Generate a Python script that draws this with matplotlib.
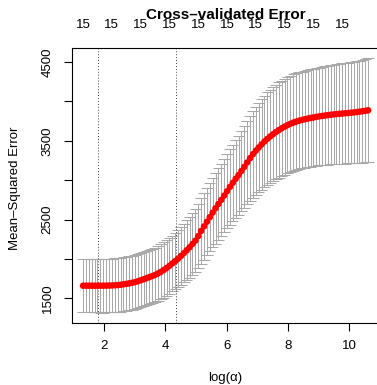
import numpy as np
import matplotlib
matplotlib.use("Agg")
import matplotlib.pyplot as plt
from matplotlib.transforms import blended_transform_factory

plt.rcParams['font.family'] = ['Liberation Sans', 'DejaVu Sans']

# log(lambda) grid (glmnet uses an evenly spaced log-lambda path of 100 values)
log_lambda = np.linspace(1.33, 10.607, 100)

cv_mean = [
    1660, 1660, 1660, 1660, 1660, 1660, 1660, 1660, 1661, 1662,
    1663, 1665, 1668, 1672, 1677, 1683, 1690, 1697, 1705, 1716,
    1729, 1742, 1755, 1769, 1782, 1797, 1815, 1835, 1860, 1885,
    1912, 1943, 1972, 2003, 2038, 2073, 2110, 2148, 2190, 2232,
    2290, 2355, 2413, 2472, 2530, 2588, 2643, 2697, 2750, 2805,
    2860, 2915, 2967, 3018, 3065, 3117, 3170, 3225, 3280, 3330,
    3375, 3415, 3455, 3492, 3525, 3556, 3585, 3612, 3637, 3660,
    3680, 3699, 3716, 3731, 3744, 3755, 3765, 3774, 3782, 3790,
    3797, 3804, 3810, 3816, 3821, 3826, 3831, 3835, 3839, 3843,
    3846, 3850, 3853, 3857, 3861, 3865, 3870, 3875, 3881, 3888,
]

cv_sd = [
    340, 340, 340, 340, 340, 340, 341, 341, 341, 342,
    342, 342, 343, 343, 343, 344, 344, 344, 345, 345,
    345, 346, 346, 347, 347, 348, 349, 350, 351, 352,
    353, 354, 356, 360, 366, 372, 378, 385, 392, 399,
    406, 414, 421, 428, 435, 442, 449, 455, 461, 467,
    473, 479, 485, 492, 502, 512, 522, 532, 541, 550,
    559, 567, 575, 582, 589, 594, 598, 601, 604, 606,
    608, 610, 611, 612, 613, 614, 615, 616, 617, 618,
    619, 620, 621, 623, 625, 627, 629, 631, 633, 635,
    637, 639, 641, 643, 645, 647, 649, 652, 655, 658,
]

nonzero = ["15"] * 100
lambda_min_log = 1.825
lambda_1se_log = 4.357

x_ticks = [2, 4, 6, 8, 10]
y_ticks = [1500, 2000, 2500, 3000, 3500, 4000, 4500]
y_ticklabels = ["1500", "", "2500", "", "3500", "", "4500"]

W, H = 377, 385
fs = 9.5
fig = plt.figure(figsize=(W / 100, H / 100), dpi=100)
ax_left, ax_right, ax_top, ax_bottom = 71.7, 379.5, 48.3, 322.7
ax = fig.add_axes([ax_left / W, 1 - ax_bottom / H,
                   (ax_right - ax_left) / W, (ax_bottom - ax_top) / H])

x = np.asarray(log_lambda)
m = np.asarray(cv_mean, dtype=float)
s = np.asarray(cv_sd, dtype=float)
upper = m + s
lower = m - s

barw = (x.max() - x.min()) * 0.02
grey = '#A9A9A9'
ax.vlines(x, lower, upper, colors=grey, lw=0.75)
ax.hlines(upper, x - barw, x + barw, colors=grey, lw=0.75)
ax.hlines(lower, x - barw, x + barw, colors=grey, lw=0.75)
ax.scatter(x, m, s=22, color='red', edgecolors='none', zorder=3)

ax.axvline(lambda_min_log, color='black', lw=0.6, ls=(0, (1, 2.5)))
ax.axvline(lambda_1se_log, color='black', lw=0.6, ls=(0, (1, 2.5)))

xr = x.max() - x.min()
ax.set_xlim(x.min() - 0.04 * xr, x.max() + 0.04 * xr)
yr = upper.max() - lower.min()
ax.set_ylim(lower.min() - 0.04 * yr, upper.max() + 0.04 * yr)

ax.set_xticks(x_ticks)
ax.set_xticklabels([str(t) for t in x_ticks])
ax.set_yticks(y_ticks)
ax.set_yticklabels(y_ticklabels, rotation=90, va='center')
ax.tick_params(axis='x', length=5.5, width=0.8, pad=7.0, labelsize=fs)
ax.tick_params(axis='y', length=5.5, width=0.8, pad=7.5, labelsize=fs)
for sp in ax.spines.values():
    sp.set_color('black')
    sp.set_linewidth(0.8)

# top axis: number of nonzero coefficients
trans = blended_transform_factory(ax.transData, fig.transFigure)
for i in range(0, len(x), 10):
    ax.text(x[i], 1 - 25 / H, nonzero[i], transform=trans, ha='center',
            va='center', fontsize=fs, clip_on=False)

fig.text(((ax_left + ax_right) / 2) / W, 1 - 15 / H, "Cross–validated Error",
         ha='center', va='center', fontsize=11, fontweight='bold')
fig.text(225 / W, 1 - 378 / H, "log(α)", ha='center', va='center', fontsize=fs)
fig.text(15 / W, 1 - 188 / H, "Mean–Squared Error", ha='center', va='center',
         rotation=90, fontsize=fs)

fig.savefig("out.png", dpi=100)
